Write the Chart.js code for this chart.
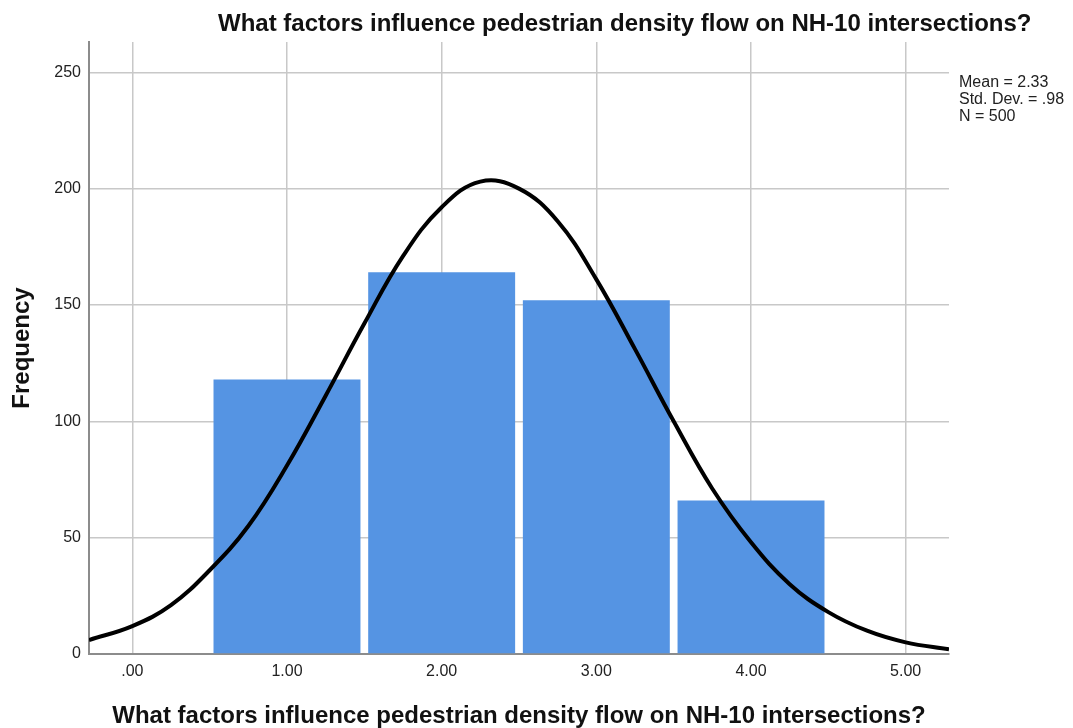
<!DOCTYPE html>
<html>
<head>
<meta charset="utf-8">
<script src="https://cdn.jsdelivr.net/npm/chart.js@4.4.1/dist/chart.umd.min.js"></script>
<style>
  body { margin: 0; background: #fff; font-family: "Liberation Sans", Arial, sans-serif; }
  #wrap { position: relative; width: 1073px; height: 728px; }
  #title { position: absolute; left: 218px; top: 11px; font-size: 24px; line-height: 24px; font-weight: bold; color: #111; white-space: nowrap; }
  #stats { position: absolute; left: 959px; top: 73px; font-size: 16px; line-height: 17px; color: #222; }
</style>
</head>
<body>
<div id="wrap">
  <canvas id="histChart" width="1073" height="728"></canvas>
  <div id="title">What factors influence pedestrian density flow on NH-10 intersections?</div>
  <div id="stats">Mean = 2.33<br>Std. Dev. = .98<br>N = 500</div>
</div>
<script>
// Dữ liệu histogram
const binCenters = [1, 2, 3, 4];
const frequencies = [118, 164, 152, 66];

// Đường cong chuẩn
const curveX = [-0.28, 0, 0.25, 0.5, 0.75, 1, 1.25, 1.5, 1.75, 2, 2.25, 2.5, 2.75, 3, 3.25, 3.5, 3.75, 4, 4.25, 4.5, 4.75, 5, 5.28];
const curveY = [6, 12, 21, 36, 55, 81, 111, 142, 171, 192, 203, 200, 186, 161, 131, 100, 71, 48, 30, 18, 10, 5, 2];

const xTicks = [0, 1, 2, 3, 4, 5];
const yTicks = [0, 50, 100, 150, 200, 250];

const axisTitle = "What factors influence pedestrian density flow on NH-10 intersections?";

const fontFamily = '"Liberation Sans", Arial, sans-serif';

const barPoints = binCenters.map((x, i) => ({ x: x, y: frequencies[i] }));
const curvePoints = curveX.map((x, i) => ({ x: x, y: curveY[i] }));

const ctx = document.getElementById("histChart").getContext("2d");

new Chart(ctx, {
  type: "bar",
  data: {
    datasets: [
      {
        type: "line",
        data: curvePoints,
        borderColor: "#000",
        borderWidth: 4,
        pointRadius: 0,
        fill: false,
        tension: 0.4,
        order: 0
      },
      {
        type: "bar",
        data: barPoints,
        backgroundColor: "#5594e3",
        borderWidth: 0,
        barPercentage: 0.95,
        categoryPercentage: 1,
        order: 1
      }
    ]
  },
  options: {
    responsive: false,
    animation: false,
    layout: { padding: { top: 42, right: 124, bottom: 0, left: 0 } },
    plugins: {
      legend: { display: false },
      tooltip: { enabled: false }
    },
    scales: {
      x: {
        type: "linear",
        offset: false,
        min: -0.28,
        max: 5.28,
        afterBuildTicks: (scale) => {
          scale.ticks = xTicks.map(v => ({ value: v }));
        },
        afterFit: (scale) => { scale.height = 74; },
        ticks: {
          padding: 8,
          color: "#222",
          font: { family: fontFamily, size: 16 },
          callback: (v) => (v === 0 ? ".00" : v.toFixed(2))
        },
        grid: { color: "#c8c8c8", lineWidth: 1.5, drawTicks: false, offset: false },
        border: { color: "#8c8c8c", width: 2 },
        title: {
          display: true,
          text: axisTitle,
          color: "#111",
          font: { family: fontFamily, size: 24, weight: "bold" },
          padding: { top: 0, bottom: -3 }
        }
      },
      y: {
        min: 0,
        max: 263,
        afterBuildTicks: (scale) => {
          scale.ticks = yTicks.map(v => ({ value: v }));
        },
        afterFit: (scale) => { scale.width = 89; },
        ticks: {
          padding: 8,
          color: "#222",
          font: { family: fontFamily, size: 16 }
        },
        grid: { color: "#c8c8c8", lineWidth: 1.5, drawTicks: false },
        border: { color: "#8c8c8c", width: 2 },
        title: {
          display: true,
          text: "Frequency",
          color: "#111",
          font: { family: fontFamily, size: 24, weight: "bold" },
          padding: { top: 8, bottom: 0 }
        }
      }
    }
  }
});
</script>
</body>
</html>
